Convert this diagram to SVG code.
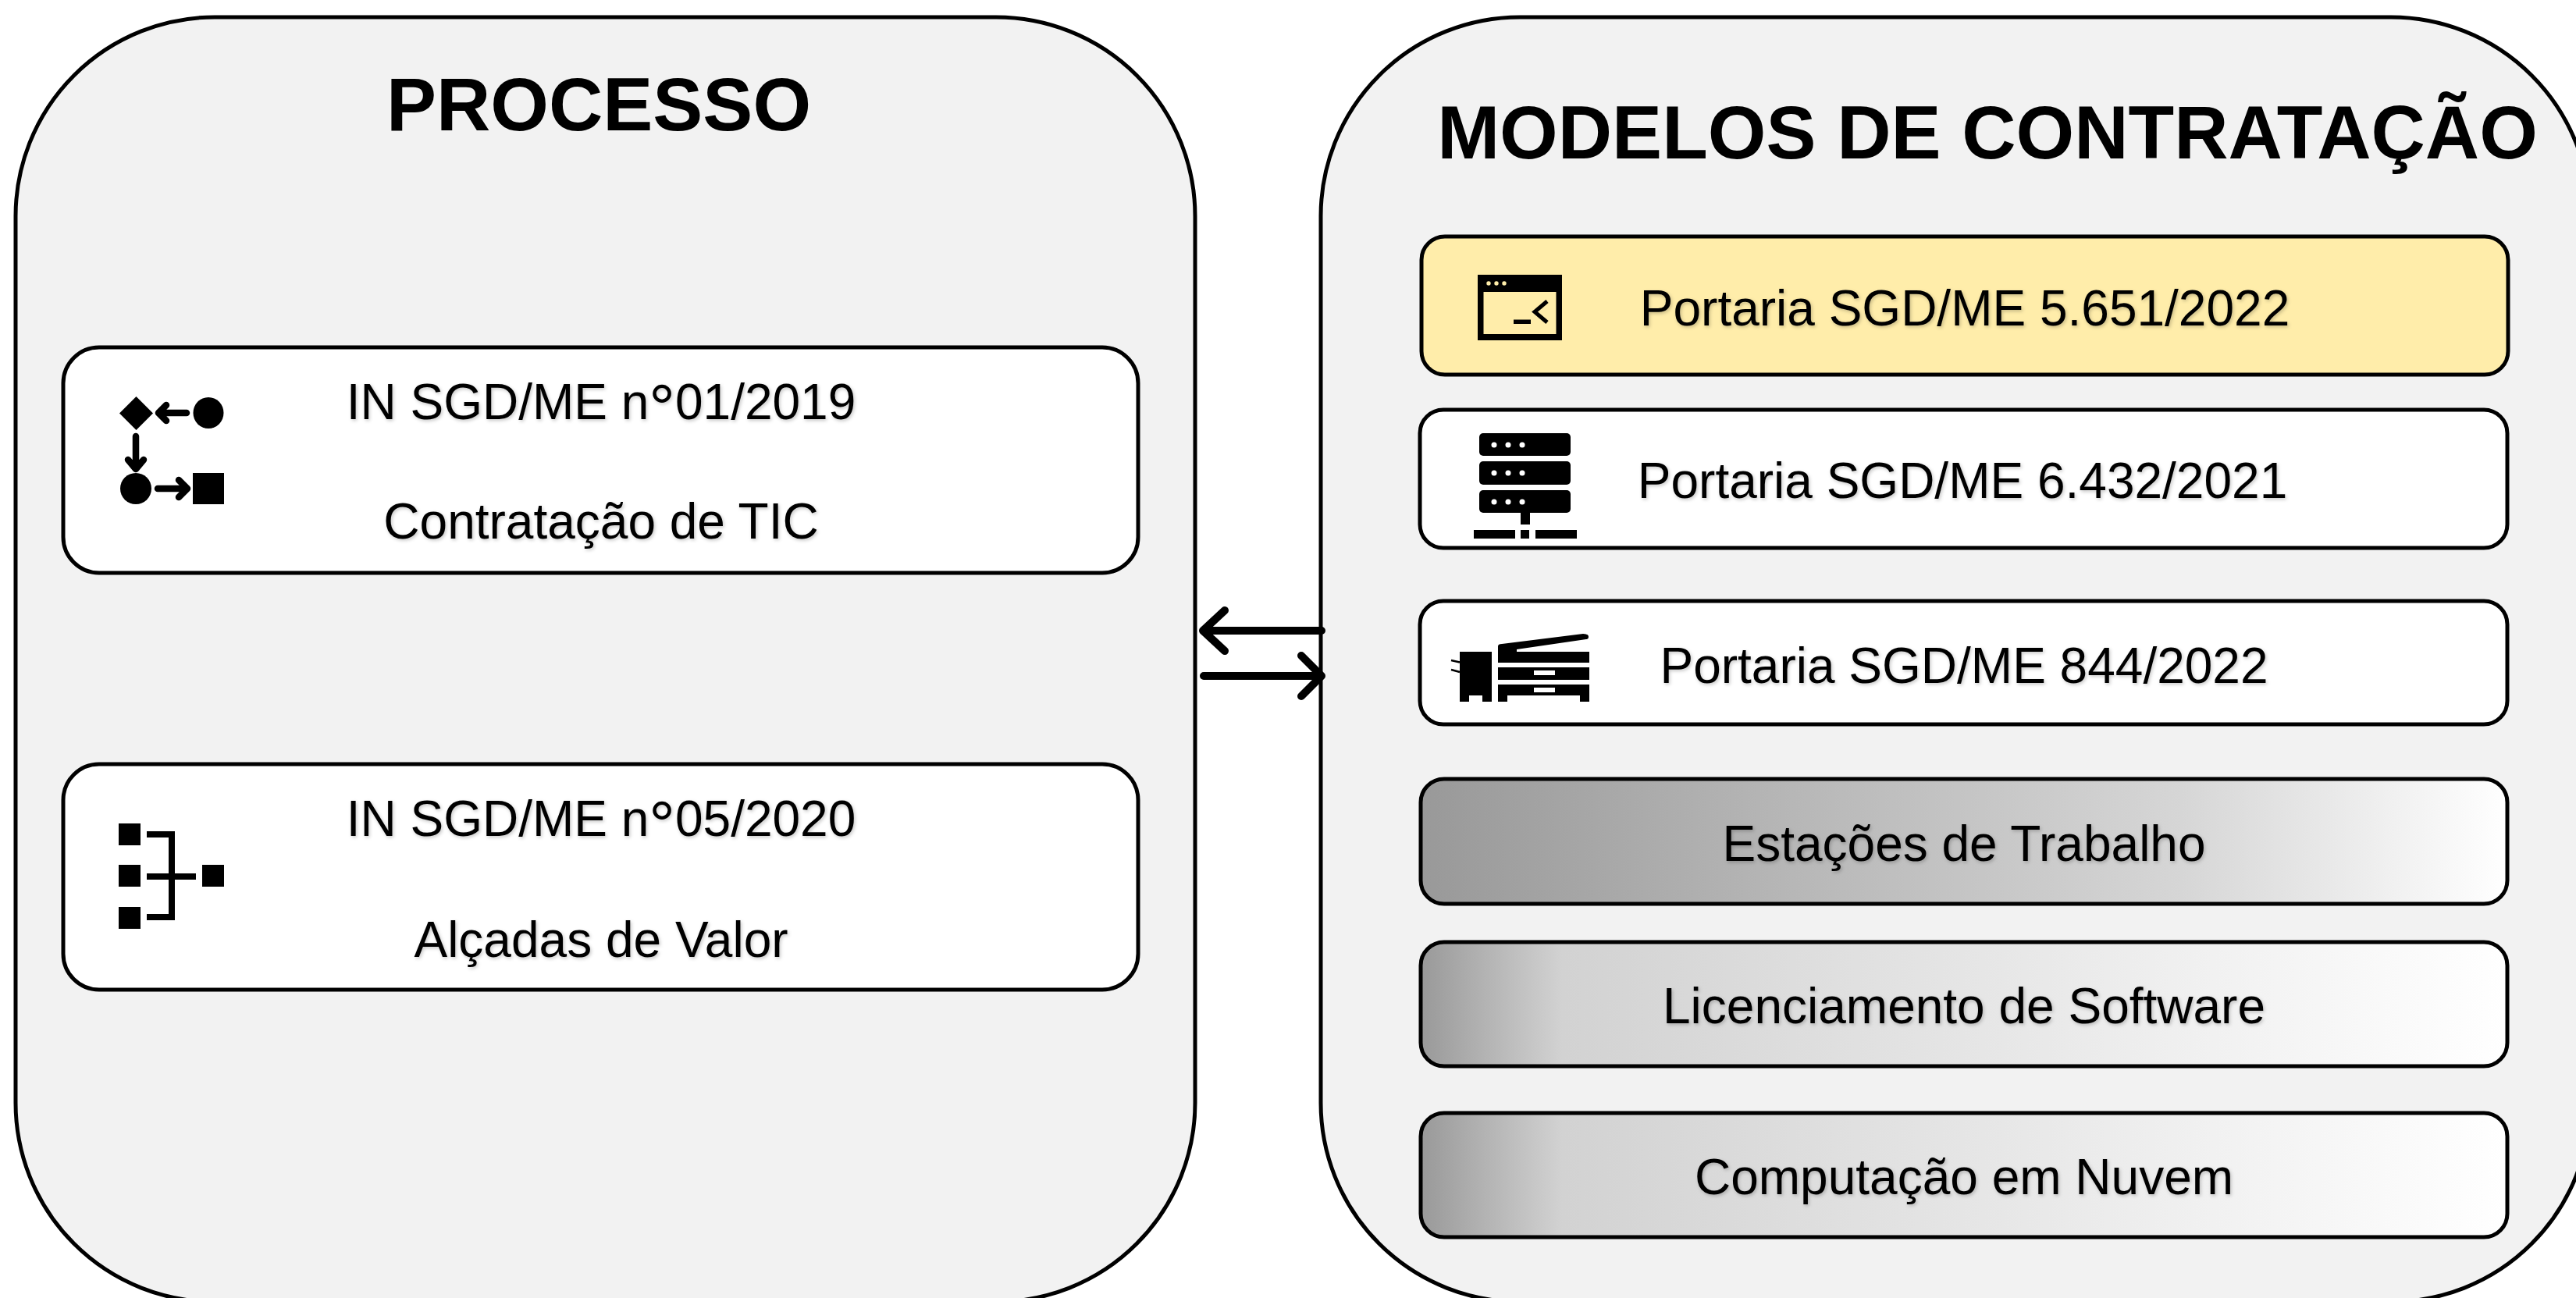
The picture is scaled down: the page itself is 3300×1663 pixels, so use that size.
<svg xmlns="http://www.w3.org/2000/svg" width="3300" height="1663" viewBox="0 0 3300 1663">
<style>
.panel{fill:#f2f2f2;stroke:#000;stroke-width:5}
.box{stroke:#000;stroke-width:5}
.t{font-family:"Liberation Sans",Arial,sans-serif;font-size:64px;fill:#000;text-anchor:middle;filter:url(#ts)}
.deg{font-size:84px}
.h{font-family:"Liberation Sans",Arial,sans-serif;font-weight:700;fill:#000;text-anchor:middle}
.arr{fill:none;stroke:#000;stroke-width:10;stroke-linecap:round;stroke-linejoin:round}
</style>
<defs>
<filter id="ts" x="-5%" y="-20%" width="110%" height="140%"><feDropShadow dx="1.500" dy="2" stdDeviation="2" flood-color="#000" flood-opacity=".22"/></filter>
<linearGradient id="g1"><stop offset="0" stop-color="#999"/><stop offset=".7" stop-color="#d6d6d6"/><stop offset="1" stop-color="#fff"/></linearGradient>
<linearGradient id="g2"><stop offset="0" stop-color="#999"/><stop offset=".13" stop-color="#d2d2d2"/><stop offset="1" stop-color="#fff"/></linearGradient>
</defs>
<rect width="3300" height="1663" fill="#fff"/>
<g id="processo">
<rect class="panel" x="20" y="22" width="1511" height="1646" rx="255"/>
<text class="h" x="767" y="167" font-size="96">PROCESSO</text>
</g>
<g id="modelos">
<rect class="panel" x="1692" y="22" width="1626" height="1646" rx="255"/>
<text class="h" x="2546" y="203" font-size="96">MODELOS DE CONTRATAÇÃO</text>
</g>
<g id="in01">
<rect class="box" fill="#fff" x="81" y="445" width="1377" height="289" rx="46"/>
<path d="M174.500 508L196 529.500L174.500 551L153 529.500Z"/>
<ellipse cx="267" cy="529" rx="19.500" ry="20"/>
<ellipse cx="174" cy="626" rx="20" ry="20"/>
<rect x="247" y="606" width="40" height="40"/>
<path d="M239 529H205M213 519L203 529L213 539M174 559V600M164 589L174 601L184 589M202 626H240M229 615L240 626L229 637" fill="none" stroke="#000" stroke-width="8.500" stroke-linejoin="round" stroke-linecap="round"/>
<text class="t" x="770" y="537">IN SGD/ME n<tspan class="deg" dy="14">°</tspan><tspan dy="-14">01/2019</tspan></text>
<text class="t" x="770" y="690">Contratação de TIC</text>
</g>
<g id="in05">
<rect class="box" fill="#fff" x="81" y="979" width="1377" height="289" rx="46"/>
<path d="M152 1055h28v28h-28zM152 1108h28v28h-28zM152 1162h28v28h-28zM259 1108h28v28h-28zM188 1065h36v54h27v8h-27v52h-36v-8h28v-44h-28v-8h28v-46h-28z"/>
<text class="t" x="770" y="1071">IN SGD/ME n<tspan class="deg" dy="14">°</tspan><tspan dy="-14">05/2020</tspan></text>
<text class="t" x="770" y="1226">Alçadas de Valor</text>
</g>
<g id="p5651">
<rect class="box" fill="#ffedaa" x="1821" y="303" width="1392" height="177" rx="30"/>
<path fill-rule="evenodd" d="M1893 352h108v84h-108zM1900.500 374v54h93v-54zM1939 409.500h22v5.500h-22z"/>
<path d="M1982 386L1966 399.500L1982 413" fill="none" stroke="#000" stroke-width="5"/>
<g fill="#ffedaa"><circle cx="1907" cy="363" r="2.700"/><circle cx="1917" cy="363" r="2.700"/><circle cx="1927" cy="363" r="2.700"/></g>
<text class="t" x="2517" y="417">Portaria SGD/ME 5.651/2022</text>
</g>
<g id="p6432">
<rect class="box" fill="#fff" x="1819" y="525" width="1393" height="177" rx="30"/>
<rect x="1895" y="555" width="117" height="29" rx="5"/><rect x="1895" y="591" width="117" height="30" rx="5"/><rect x="1895" y="628" width="117" height="29" rx="5"/>
<path d="M1948 657h12v15h-12zM1888 679h53v11h-53zM1948 679h11v11h-11zM1967 679h53v11h-53z"/>
<g fill="#fff"><circle cx="1914" cy="570" r="3.500"/><circle cx="1932" cy="570" r="3.500"/><circle cx="1950" cy="570" r="3.500"/><circle cx="1914" cy="606" r="3.500"/><circle cx="1932" cy="606" r="3.500"/><circle cx="1950" cy="606" r="3.500"/><circle cx="1914" cy="643" r="3.500"/><circle cx="1932" cy="643" r="3.500"/><circle cx="1950" cy="643" r="3.500"/></g>
<text class="t" x="2514" y="638">Portaria SGD/ME 6.432/2021</text>
</g>
<g id="p844">
<rect class="box" fill="#fff" x="1819" y="770" width="1393" height="158" rx="30"/>
<path fill-rule="evenodd" d="M1870 835h41v64h-12v-8h-17v8h-12zM1919 835v-7q0-3 5-3l104-13q7 0 7 4q0 3-3 3l-89 13v3h93v14h-117zM1919 855h117v16h-117zM1965 859v6h27v-6zM1919 877h117v22h-12v-8h-93v8h-12zM1965 881v6h27v-6z"/>
<path d="M1859 846L1870 848.500M1859 858L1870 861" stroke="#000" stroke-width="2.500" fill="none"/>
<text class="t" x="2516" y="875">Portaria SGD/ME 844/2022</text>
</g>
<g id="estacoes">
<rect class="box" fill="url(#g1)" x="1820" y="998" width="1392" height="160" rx="30"/>
<text class="t" x="2516" y="1103">Estações de Trabalho</text>
</g>
<g id="licenciamento">
<rect class="box" fill="url(#g2)" x="1820" y="1207" width="1392" height="159" rx="30"/>
<text class="t" x="2516" y="1311">Licenciamento de Software</text>
</g>
<g id="nuvem">
<rect class="box" fill="url(#g2)" x="1820" y="1426" width="1392" height="159" rx="30"/>
<text class="t" x="2516" y="1530">Computação em Nuvem</text>
</g>
<g id="connectors">
<path class="arr" d="M1693 808H1541M1569 782L1541 808L1569 834"/>
<path class="arr" d="M1542 866H1693M1667 840L1693 866L1667 892"/>
</g>
</svg>
